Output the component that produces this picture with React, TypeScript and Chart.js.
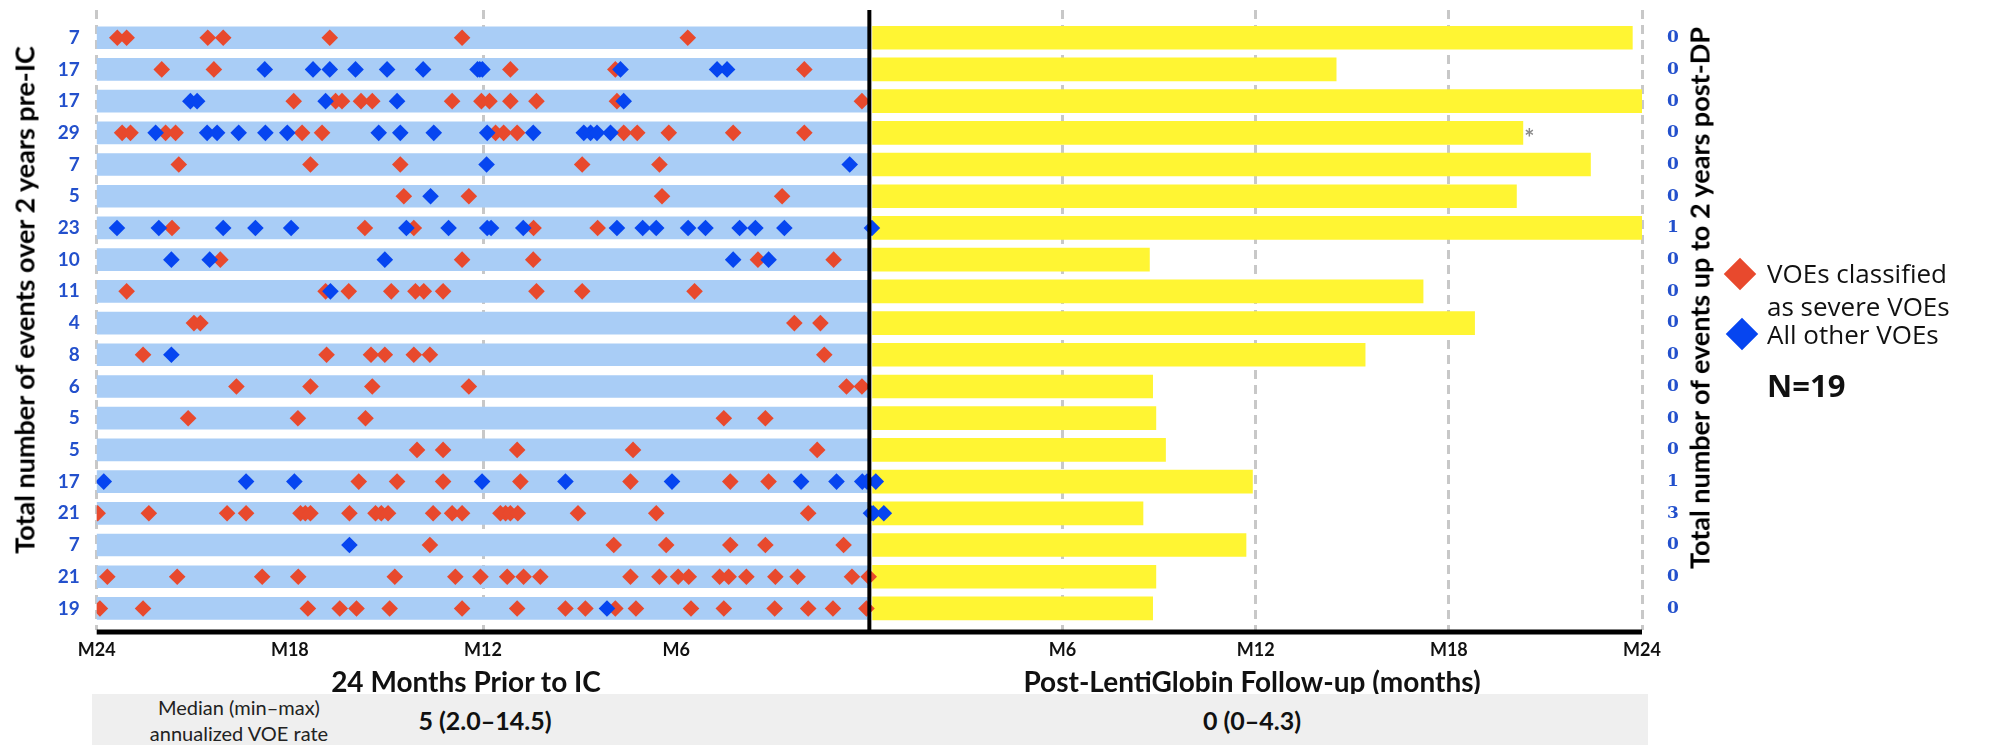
import React, { useEffect, useRef } from 'react';
import { Chart, registerables } from 'chart.js';
Chart.register(...registerables);

// Totals printed at the left (pre-IC) and right (post-DP) of each patient row
const preTotals = [7, 17, 17, 29, 7, 5, 23, 10, 11, 4, 8, 6, 5, 5, 17, 21, 7, 21, 19];
const postTotals = [0, 0, 0, 0, 0, 0, 1, 0, 0, 0, 0, 0, 0, 0, 1, 3, 0, 0, 0];

// Post-LentiGlobin follow-up length (months) per row
const followUpMonths = [23.7, 14.5, 24, 20.3, 22.4, 20.1, 24, 8.7, 17.2, 18.8, 15.4, 8.8, 8.9, 9.2, 11.9, 8.5, 11.7, 8.9, 8.8];

// Pre-IC window (months before IC)
const preWindowMonths = 24;

// X tick labels (-24 .. 24 step 6)
const xTickLabels = ['M24', 'M18', 'M12', 'M6', '', 'M6', 'M12', 'M18', 'M24'];
// Months where dashed grid lines are visible
const gridMonths = [-24, -12, 6, 12, 18, 24];

// Severe VOEs (red) before IC, months relative to IC, per row
const severePre: number[][] = [
  [-23.36, -23.07, -20.55, -20.07, -16.76, -12.65, -5.64],
  [-21.98, -20.36, -11.15, -7.89, -2.02],
  [-17.88, -16.58, -16.38, -15.79, -15.44, -12.96, -12.05, -11.8, -11.15, -10.34, -7.84, -0.23],
  [-23.21, -22.95, -21.86, -21.55, -17.62, -17.0, -11.61, -11.36, -10.94, -7.63, -7.21, -6.23, -4.23, -2.02],
  [-21.45, -17.36, -14.57, -8.92, -6.52],
  [-14.46, -12.44, -6.44, -2.71],
  [-21.66, -15.67, -14.15, -10.43, -8.44],
  [-20.16, -12.65, -10.44, -3.46, -1.11],
  [-23.07, -16.89, -16.17, -14.85, -14.1, -13.84, -13.24, -10.34, -8.92, -5.43],
  [-20.98, -20.78, -2.33, -1.52],
  [-22.56, -16.86, -15.48, -15.05, -14.15, -13.65, -1.4],
  [-19.66, -17.36, -15.44, -12.44, -0.71, -0.23],
  [-21.16, -17.75, -15.65, -4.52, -3.23],
  [-14.05, -13.24, -10.94, -7.34, -1.62],
  [-15.86, -14.67, -13.24, -10.84, -7.42, -4.32, -3.13],
  [-23.97, -22.38, -19.95, -19.36, -17.67, -17.52, -17.36, -16.15, -15.34, -15.16, -14.95, -13.55, -12.96, -12.65, -11.46, -11.3, -11.15, -10.92, -9.05, -6.62, -1.9],
  [-13.65, -7.94, -6.31, -4.32, -3.23, -0.8],
  [-23.67, -21.5, -18.86, -17.74, -14.74, -12.86, -12.08, -11.25, -10.74, -10.22, -7.42, -6.52, -5.94, -5.61, -4.65, -4.37, -3.82, -2.92, -2.23, -0.54, -0.02],
  [-23.9, -22.56, -17.44, -16.45, -15.93, -14.9, -12.65, -10.94, -9.44, -8.82, -7.89, -7.25, -5.54, -4.52, -2.94, -1.9, -1.13, -0.09],
];

// All other VOEs (blue) before IC
const otherPre: number[][] = [
  [],
  [-18.78, -17.28, -16.76, -15.96, -14.98, -13.86, -12.17, -12.1, -12.02, -7.73, -4.73, -4.42],
  [-21.09, -20.88, -16.89, -14.67, -7.63],
  [-22.17, -20.57, -20.26, -19.59, -18.76, -18.08, -15.24, -14.57, -13.53, -11.87, -10.44, -8.87, -8.66, -8.46, -8.04],
  [-11.89, -0.61],
  [-13.63],
  [-23.37, -22.07, -20.07, -19.07, -17.96, -14.38, -13.07, -11.87, -11.75, -10.75, -7.84, -7.04, -6.62, -5.63, -5.09, -4.03, -3.54, -2.64],
  [-21.68, -20.49, -15.05, -4.23, -3.13],
  [-16.74],
  [],
  [-21.68],
  [],
  [],
  [],
  [-23.78, -19.36, -17.86, -12.03, -9.44, -6.13, -2.12, -1.02, -0.22, -0.07],
  [],
  [-16.15],
  [],
  [-8.15],
];

// All other VOEs (blue) after drug product, months after
const otherPost: number[][] = [
  [], [], [], [], [], [], [0.08], [], [], [], [], [], [], [], [0.2], [0.05, 0.12, 0.45], [], [], [],
];

const RED = '#E8492D';
const BLUE = '#0645F0';
const LIGHT_BLUE = '#A9CDF6';
const YELLOW = '#FFF533';
const LABEL_BLUE = '#2350CC';
const FONT = 'Lato, "Open Sans", sans-serif';

const Y_MIN = -0.874;
const Y_MAX = 18.68;

export default function App() {
  const ref = useRef<HTMLCanvasElement>(null);

  useEffect(() => {
    const rows = preTotals.map((_, i) => i);
    const toPoints = (arr: number[][]) => arr.flatMap((r, i) => r.map((x) => ({ x, y: i })));

    const overlay = {
      id: 'overlay',
      afterDatasetsDraw(chart: any) {
        const { ctx, chartArea, scales } = chart;
        const xs = scales.x;
        const ys = scales.y;
        ctx.save();
        ctx.strokeStyle = '#000';
        ctx.lineWidth = 4;
        ctx.beginPath();
        const x0 = xs.getPixelForValue(0);
        ctx.moveTo(x0, chartArea.top);
        ctx.lineTo(x0, chartArea.bottom + 3);
        ctx.stroke();
        ctx.lineWidth = 5;
        ctx.beginPath();
        ctx.moveTo(xs.getPixelForValue(-preWindowMonths), chartArea.bottom + 2);
        ctx.lineTo(xs.getPixelForValue(24), chartArea.bottom + 2);
        ctx.stroke();
        // asterisk after row 4 follow-up bar
        ctx.fillStyle = '#8a8a8a';
        ctx.font = 'bold 24px ' + FONT;
        ctx.textAlign = 'center';
        ctx.textBaseline = 'middle';
        ctx.fillText('*', xs.getPixelForValue(followUpMonths[3] + 0.2), ys.getPixelForValue(3) + 6);
        ctx.restore();
      },
    };

    const vFit = (w: number) => (s: any) => {
      s.width = w;
      s.paddingTop = 0;
      s.paddingBottom = 0;
    };

    const chart = new Chart(ref.current as HTMLCanvasElement, {
      type: 'bar',
      data: {
        datasets: [
          {
            type: 'scatter',
            label: 'All other VOEs',
            data: [...toPoints(otherPre), ...toPoints(otherPost)],
            pointStyle: 'rectRot',
            pointRadius: 8.3,
            backgroundColor: BLUE,
            borderWidth: 0,
            order: 1,
          } as any,
          {
            type: 'scatter',
            label: 'VOEs classified as severe VOEs',
            data: toPoints(severePre),
            pointStyle: 'rectRot',
            pointRadius: 8.3,
            backgroundColor: RED,
            borderWidth: 0,
            order: 2,
          } as any,
          {
            type: 'bar',
            label: '24 Months Prior to IC',
            indexAxis: 'y',
            data: rows.map((i) => ({ x: [-preWindowMonths, 0], y: i })),
            backgroundColor: LIGHT_BLUE,
            barThickness: 22,
            grouped: false,
            order: 10,
          } as any,
          {
            type: 'bar',
            label: 'Post-LentiGlobin Follow-up',
            indexAxis: 'y',
            data: rows.map((i) => ({ x: [0.1, followUpMonths[i]], y: i })),
            backgroundColor: YELLOW,
            barThickness: 23,
            grouped: false,
            order: 10,
          } as any,
        ],
      },
      options: {
        responsive: false,
        animation: false,
        layout: { padding: { top: 10, left: 0, right: 0, bottom: 0 } },
        plugins: { legend: { display: false }, tooltip: { enabled: false } },
        scales: {
          x: {
            type: 'linear',
            min: -24,
            max: 24,
            offset: false,
            afterBuildTicks: (s: any) => {
              s.ticks = xTickLabels.map((_, i) => ({ value: -24 + i * 6 }));
            },
            afterFit: (s: any) => {
              s.height = 115;
              s.paddingLeft = 0;
              s.paddingRight = 0;
            },
            ticks: {
              callback: (_v: any, i: number) => xTickLabels[i],
              font: { family: FONT, size: 18, weight: 'bold' },
              color: '#111',
              padding: 9,
              maxRotation: 0,
              autoSkip: false,
            },
            grid: {
              offset: false,
              color: (c: any) => (gridMonths.includes(c.tick?.value) ? '#C8C8C8' : 'rgba(0,0,0,0)'),
              lineWidth: 3,
              drawTicks: false,
            },
            border: { display: false, dash: [9, 6] },
          },
          y: {
            type: 'linear',
            position: 'left',
            reverse: true,
            offset: false,
            min: Y_MIN,
            max: Y_MAX,
            afterBuildTicks: (s: any) => {
              s.ticks = rows.map((v) => ({ value: v }));
            },
            afterFit: vFit(96.7),
            ticks: {
              callback: (_v: any, i: number) => String(preTotals[i]),
              font: { family: FONT, size: 19, weight: 'bold' },
              color: LABEL_BLUE,
              padding: 17,
              autoSkip: false,
            },
            grid: { display: false, drawTicks: false, offset: false },
            border: { display: false },
          },
          y2: {
            type: 'linear',
            position: 'right',
            reverse: true,
            offset: false,
            min: Y_MIN,
            max: Y_MAX,
            afterBuildTicks: (s: any) => {
              s.ticks = rows.map((v) => ({ value: v }));
            },
            afterFit: vFit(351),
            ticks: {
              callback: (_v: any, i: number) => String(postTotals[i]),
              font: { family: '"DejaVu Serif", serif', size: 17, weight: 'bold' },
              color: LABEL_BLUE,
              padding: 25,
              autoSkip: false,
            },
            grid: { display: false, drawTicks: false, offset: false },
            border: { display: false },
          },
        },
      } as any,
      plugins: [overlay],
    });
    return () => chart.destroy();
  }, []);

  const abs = (s: React.CSSProperties): React.CSSProperties => ({ position: 'absolute', whiteSpace: 'nowrap', ...s });
  const centered = (x: number, y: number, s: React.CSSProperties): React.CSSProperties =>
    abs({ left: x, top: y, transform: 'translate(-50%, -50%)', ...s });
  const rotated = (x: number, y: number, s: React.CSSProperties): React.CSSProperties =>
    abs({ left: x, top: y, transform: 'translate(-50%, -50%) rotate(-90deg)', ...s });
  const legendFont = '"Open Sans", sans-serif';

  return (
    <div style={{ position: 'absolute', left: 0, top: 0, width: 1993, height: 745, background: '#fff', overflow: 'hidden', fontFamily: FONT }}>
      <canvas ref={ref} width={1993} height={745} style={{ position: 'absolute', left: 0, top: 0, width: 1993, height: 745 }} />
      <div style={rotated(24, 300, { fontSize: 27, fontWeight: 700, color: '#000' })}>Total number of events over 2 years pre-IC</div>
      <div style={rotated(1699, 298, { fontSize: 27, fontWeight: 700, color: '#000' })}>Total number of events up to 2 years post-DP</div>

      <div style={centered(1740, 274, { width: 23, height: 23, background: RED, transform: 'translate(-50%, -50%) rotate(45deg)' })} />
      <div style={centered(1742, 334, { width: 23, height: 23, background: BLUE, transform: 'translate(-50%, -50%) rotate(45deg)' })} />
      <div style={abs({ left: 1767, top: 257, fontSize: 26, lineHeight: '33px', fontFamily: legendFont, color: '#111' })}>
        VOEs classified
        <br />
        as severe VOEs
      </div>
      <div style={abs({ left: 1767, top: 318, fontSize: 26, lineHeight: '33px', fontFamily: legendFont, color: '#111' })}>All other VOEs</div>
      <div style={abs({ left: 1767, top: 366, fontSize: 31, lineHeight: '38px', fontWeight: 700, fontFamily: legendFont, color: '#111' })}>N=19</div>

      <div style={centered(466, 681, { fontSize: 28, fontWeight: 700, color: '#111' })}>24 Months Prior to IC</div>
      <div style={centered(1252, 681, { fontSize: 28, fontWeight: 700, color: '#111' })}>Post-LentiGlobin Follow-up (months)</div>

      <div style={abs({ left: 92, top: 694, width: 1556, height: 51, background: '#EFEFEF' })} />
      <div style={centered(239, 720, { fontSize: 20, lineHeight: '26px', textAlign: 'center', color: '#222' })}>
        Median (min–max)
        <br />
        annualized VOE rate
      </div>
      <div style={centered(485, 720, { fontSize: 25, fontWeight: 700, color: '#111' })}>5 (2.0–14.5)</div>
      <div style={centered(1252, 720, { fontSize: 25, fontWeight: 700, color: '#111' })}>0 (0–4.3)</div>
    </div>
  );
}
